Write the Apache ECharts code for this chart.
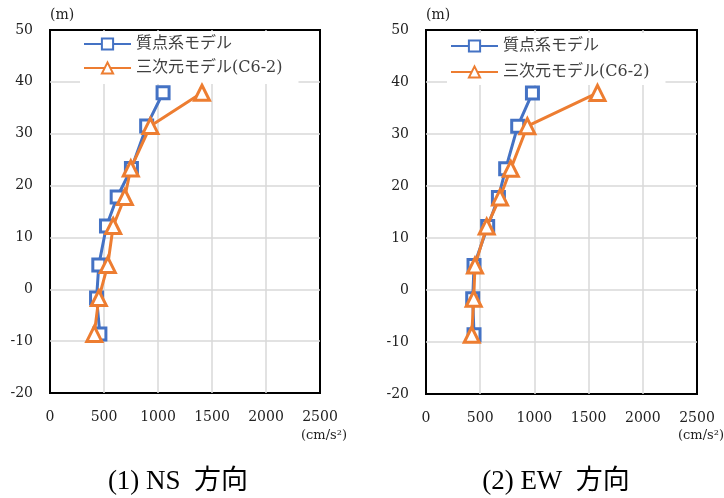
<!DOCTYPE html>
<html>
<head>
<meta charset="utf-8">
<script src="https://cdn.jsdelivr.net/npm/echarts@6/dist/echarts.min.js"></script>
<style>
  html, body { margin: 0; padding: 0; background: #fff; }
  #chart { width: 724px; height: 498px; }
</style>
</head>
<body>
<div id="chart"></div>
<script>
// Heights of the response points (m)
const heights = [37.9, 31.5, 23.3, 17.8, 12.2, 4.7, -1.7, -8.6];
// Peak acceleration (cm/s2), NS direction
const nsLumped = [1047, 895, 754, 622, 523, 452, 431, 462];
const ns3d = [1407, 930, 748, 693, 585, 535, 452, 410];
// Peak acceleration (cm/s2), EW direction
const ewLumped = [982, 846, 735, 668, 569, 443, 431, 443];
const ew3d = [1582, 935, 782, 683, 560, 452, 440, 422];

const seriesNames = ['質点系モデル', '三次元モデル(C6-2)'];
const xTicks = { min: 0, max: 2500, interval: 500 };
const yTicks = { min: -20, max: 50, interval: 10 };
const captions = ['(1) NS  方向', '(2) EW  方向'];

const BLUE = '#4472C4';
const ORANGE = '#ED7D31';
const SERIF = '"DejaVu Serif", "Noto Sans CJK JP", serif';

const pairs = (xs) => xs.map((x, i) => [x, heights[i]]);

const grids = [
  { left: 50, top: 30, width: 270, height: 363 },
  { left: 426, top: 30, width: 271, height: 364 }
];

function xAxis(i) {
  return {
    type: 'value', gridIndex: i,
    min: xTicks.min, max: xTicks.max, interval: xTicks.interval,
    axisLine: { show: false },
    axisTick: { show: false },
    axisLabel: { margin: 17, color: '#222', fontFamily: SERIF, fontSize: 14,
      formatter: (v) => String(v) },
    splitLine: { show: true, showMinLine: false, showMaxLine: false,
      lineStyle: { color: '#D9D9D9', width: 1.5 } }
  };
}
function yAxis(i) {
  return {
    type: 'value', gridIndex: i,
    min: yTicks.min, max: yTicks.max, interval: yTicks.interval,
    axisLine: { show: false },
    axisTick: { show: false },
    axisLabel: { margin: 17, color: '#222', fontFamily: SERIF, fontSize: 14,
      formatter: (v) => String(v) },
    splitLine: { show: true, showMinLine: false, showMaxLine: false,
      lineStyle: { color: '#D9D9D9', width: 1.5 } }
  };
}
function lumped(i, data) {
  return {
    name: seriesNames[0], type: 'line', xAxisIndex: i, yAxisIndex: i,
    data: pairs(data), symbol: 'rect', symbolSize: 12, z: 3,
    lineStyle: { color: BLUE, width: 3 },
    itemStyle: { color: '#fff', borderColor: BLUE, borderWidth: 3 },
    emphasis: { disabled: true }, animation: false
  };
}
function threeD(i, data) {
  return {
    name: seriesNames[1], type: 'line', xAxisIndex: i, yAxisIndex: i,
    data: pairs(data), symbol: 'triangle', symbolSize: 15, z: 4,
    lineStyle: { color: ORANGE, width: 3 },
    itemStyle: { color: '#fff', borderColor: ORANGE, borderWidth: 3 },
    emphasis: { disabled: true }, animation: false
  };
}
function legend(left, top, gap, padding) {
  return {
    orient: 'vertical', left: left, top: top,
    data: seriesNames, itemWidth: 47, itemHeight: 14, itemGap: gap,
    backgroundColor: '#fff', padding: padding,
    selectedMode: false,
    textStyle: { color: '#404040', fontSize: 16, fontFamily: SERIF }
  };
}

const chart = echarts.init(document.getElementById('chart'), null, { renderer: 'canvas' });
chart.setOption({
  animation: false,
  backgroundColor: '#fff',
  grid: grids.map(g => Object.assign({ show: true, borderColor: '#000', borderWidth: 2, backgroundColor: 'transparent' }, g)),
  xAxis: [xAxis(0), xAxis(1)],
  yAxis: [yAxis(0), yAxis(1)],
  legend: [
    legend(80, 31, 8, [5, 16, 8, 3]),
    legend(447, 33, 10, [5, 16, 5, 3])
  ],
  series: [
    lumped(0, nsLumped), threeD(0, ns3d),
    lumped(1, ewLumped), threeD(1, ew3d)
  ],
  graphic: [
    { type: 'text', left: 50, top: 8, style: { text: '(m)', font: '14px ' + SERIF, fill: '#222' } },
    { type: 'text', left: 426, top: 8, style: { text: '(m)', font: '14px ' + SERIF, fill: '#222' } },
    { type: 'text', right: 724 - 347, top: 429, style: { text: '(cm/s²)', font: '13px ' + SERIF, fill: '#222' } },
    { type: 'text', right: 0, top: 429, style: { text: '(cm/s²)', font: '13px ' + SERIF, fill: '#222' } },
    { type: 'text', x: 178, y: 482, style: { text: captions[0], font: '27px "Liberation Serif", "Noto Sans CJK JP", serif', fill: '#000', align: 'center', verticalAlign: 'middle' } },
    { type: 'text', x: 556, y: 482, style: { text: captions[1], font: '27px "Liberation Serif", "Noto Sans CJK JP", serif', fill: '#000', align: 'center', verticalAlign: 'middle' } }
  ]
});
</script>
</body>
</html>
